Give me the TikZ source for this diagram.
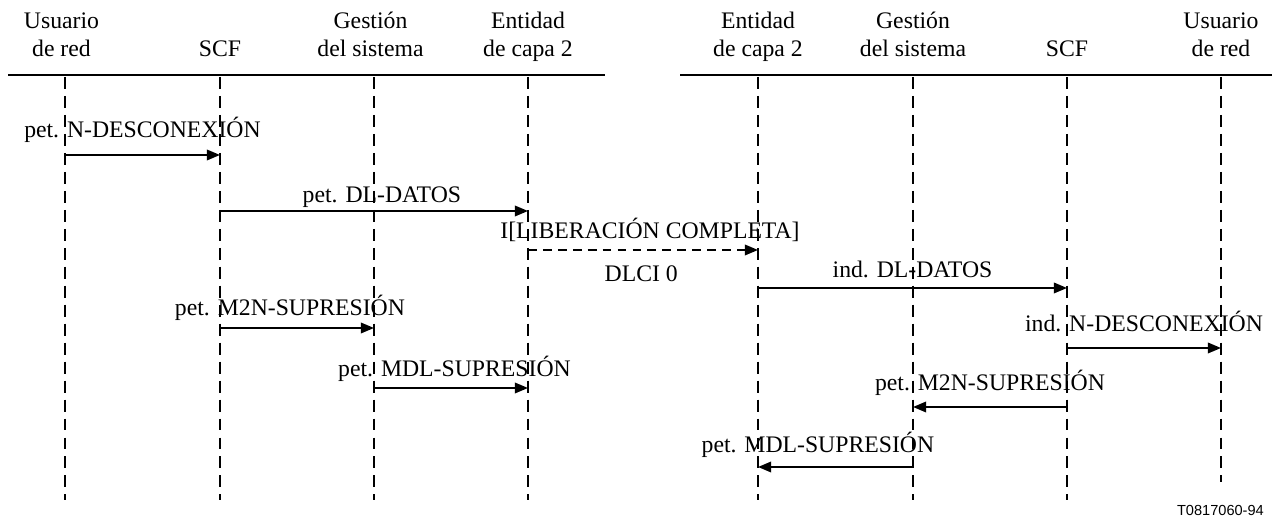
\documentclass[tikz,border=0pt]{standalone}
\usepackage{fontspec}
\setmainfont{Liberation Serif}
\setsansfont{Liberation Sans}
\usetikzlibrary{arrows.meta,positioning}

\tikzset{
  actor/.style={align=center,anchor=south,inner sep=2pt,text depth=0.25em,
    font=\fontsize{13.5}{15.5}\selectfont},
  life/.style={line width=1.15pt,dash pattern=on 6.8pt off 4pt},
  rule/.style={line width=1.15pt},
  msg/.style={line width=1.15pt,-{Triangle[length=7.5pt,width=6pt]}},
  dmsg/.style={msg,dash pattern=on 5pt off 3.5pt},
  lbl/.style={inner sep=3.3pt,text height=0.7em,text depth=0.25em,
    font=\fontsize{13.5}{15.5}\selectfont}
}

\begin{document}
\begin{tikzpicture}[x=0.02cm,y=-0.02cm]
  \useasboundingbox (0,0) rectangle (1278,526);

  % lifelines: name / x / lower end
  \foreach \n/\x/\e in {ured/65/500, lscf/220/500, lges/374/500, lent/528/500,
                        rent/758/500, rges/913/500, rscf/1067/500, rured/1221/482} {
    \coordinate (\n-t) at (\x,77);
    \coordinate (\n-b) at (\x,\e);
    \draw[life] (\n-t) -- (\n-b);
  }

  % top rules
  \coordinate (ruleL-a) at (8,75);
  \coordinate (ruleL-b) at (605,75);
  \coordinate (ruleR-a) at (680,75);
  \coordinate (ruleR-b) at (1272,75);
  \draw[rule] (ruleL-a) -- (ruleL-b);
  \draw[rule] (ruleR-a) -- (ruleR-b);

  % headers
  \node[actor] (h-ured) [above=7.2pt of ured-t, xshift=-2pt] {Usuario\\de red};
  \node[actor] (h-lscf) [above=7.2pt of lscf-t] {SCF};
  \node[actor] (h-lges) [above=7.2pt of lges-t, xshift=-2pt] {Gestión\\del sistema};
  \node[actor] (h-lent) [above=7.2pt of lent-t] {Entidad\\de capa 2};
  \node[actor] (h-rent) [above=7.2pt of rent-t] {Entidad\\de capa 2};
  \node[actor] (h-rges) [above=7.2pt of rges-t] {Gestión\\del sistema};
  \node[actor] (h-rscf) [above=7.2pt of rscf-t] {SCF};
  \node[actor] (h-rured) [above=7.2pt of rured-t] {Usuario\\de red};

  % message ends: name / from / to / y
  \foreach \m/\a/\b/\y in {m1/ured/lscf/155, m2/lscf/lent/211, m3/lent/rent/250,
                           m4/rent/rscf/288, m5/lscf/lges/328, m6/rscf/rured/348,
                           m7/lges/lent/388, m8/rscf/rges/407, m9/rges/rent/467} {
    \path (\a-t) ++(0,{\y-77}) coordinate (\m-a);
    \path (\b-t) ++(0,{\y-77}) coordinate (\m-b);
  }

  \draw[msg] (m1-a) -- node[lbl,above=3.5pt] {pet. N-DESCONEXIÓN} (m1-b);
  \draw[msg] (m2-a) -- node[lbl,above=-1.5pt,xshift=4.5pt] {pet. DL-DATOS} (m2-b);
  \draw[dmsg] (m3-a) -- node[lbl,above=0pt,xshift=4pt] {I[LIBERACIÓN COMPLETA]}
                        node[lbl,below=7pt,xshift=-1pt] {DLCI 0} (m3-b);
  \draw[msg] (m4-a) -- node[lbl,above=-0.5pt] {ind. DL-DATOS} (m4-b);
  \draw[msg] (m5-a) -- node[lbl,above=1pt,xshift=-4pt] {pet. M2N-SUPRESIÓN} (m5-b);
  \draw[msg] (m6-a) -- node[lbl,above=3pt] {ind. N-DESCONEXIÓN} (m6-b);
  \draw[msg] (m7-a) -- node[lbl,above=0pt,xshift=2pt] {pet. MDL-SUPRESIÓN} (m7-b);
  \draw[msg] (m8-a) -- node[lbl,above=3pt] {pet. M2N-SUPRESIÓN} (m8-b);
  \draw[msg] (m9-a) -- node[lbl,above=2pt,xshift=-10pt] {pet. MDL-SUPRESIÓN} (m9-b);

  \node[font=\sffamily\fontsize{8.3}{10}\selectfont,anchor=east] (fig) at (1270,510) {T0817060-94};
\end{tikzpicture}
\end{document}
